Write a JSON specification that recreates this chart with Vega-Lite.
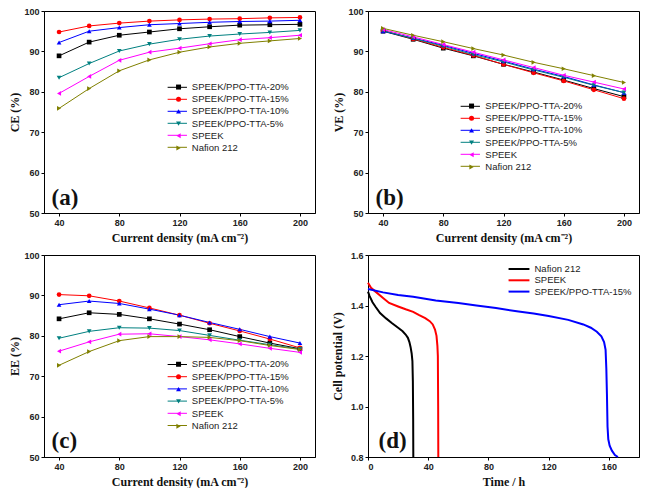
{
  "$schema": "https://vega.github.io/schema/vega-lite/v6.json",
  "background": "white",
  "padding": {"left": 8, "top": 6, "right": 4, "bottom": 0},
  "datasets": {
    "eff": [
      {"membrane": "SPEEK/PPO-TTA-20%", "cd": 40, "CE": 88.9, "VE": 95.0, "EE": 84.2},
      {"membrane": "SPEEK/PPO-TTA-20%", "cd": 60, "CE": 92.3, "VE": 93.0, "EE": 85.7},
      {"membrane": "SPEEK/PPO-TTA-20%", "cd": 80, "CE": 94.0, "VE": 90.8, "EE": 85.3},
      {"membrane": "SPEEK/PPO-TTA-20%", "cd": 100, "CE": 94.8, "VE": 88.9, "EE": 84.2},
      {"membrane": "SPEEK/PPO-TTA-20%", "cd": 120, "CE": 95.6, "VE": 86.8, "EE": 82.9},
      {"membrane": "SPEEK/PPO-TTA-20%", "cd": 140, "CE": 96.1, "VE": 84.9, "EE": 81.5},
      {"membrane": "SPEEK/PPO-TTA-20%", "cd": 160, "CE": 96.5, "VE": 82.9, "EE": 79.8},
      {"membrane": "SPEEK/PPO-TTA-20%", "cd": 180, "CE": 96.6, "VE": 80.8, "EE": 78.2},
      {"membrane": "SPEEK/PPO-TTA-20%", "cd": 200, "CE": 96.7, "VE": 78.8, "EE": 76.8},
      {"membrane": "SPEEK/PPO-TTA-15%", "cd": 40, "CE": 94.8, "VE": 95.2, "EE": 90.2},
      {"membrane": "SPEEK/PPO-TTA-15%", "cd": 60, "CE": 96.3, "VE": 93.1, "EE": 89.9},
      {"membrane": "SPEEK/PPO-TTA-15%", "cd": 80, "CE": 97.0, "VE": 91.0, "EE": 88.6},
      {"membrane": "SPEEK/PPO-TTA-15%", "cd": 100, "CE": 97.5, "VE": 89.0, "EE": 86.9},
      {"membrane": "SPEEK/PPO-TTA-15%", "cd": 120, "CE": 97.8, "VE": 86.8, "EE": 85.1},
      {"membrane": "SPEEK/PPO-TTA-15%", "cd": 140, "CE": 98.0, "VE": 84.7, "EE": 83.1},
      {"membrane": "SPEEK/PPO-TTA-15%", "cd": 160, "CE": 98.1, "VE": 82.7, "EE": 81.2},
      {"membrane": "SPEEK/PPO-TTA-15%", "cd": 180, "CE": 98.3, "VE": 80.5, "EE": 79.2},
      {"membrane": "SPEEK/PPO-TTA-15%", "cd": 200, "CE": 98.4, "VE": 78.3, "EE": 77.0},
      {"membrane": "SPEEK/PPO-TTA-10%", "cd": 40, "CE": 92.2, "VE": 95.0, "EE": 87.7},
      {"membrane": "SPEEK/PPO-TTA-10%", "cd": 60, "CE": 95.0, "VE": 93.3, "EE": 88.6},
      {"membrane": "SPEEK/PPO-TTA-10%", "cd": 80, "CE": 95.9, "VE": 91.5, "EE": 88.0},
      {"membrane": "SPEEK/PPO-TTA-10%", "cd": 100, "CE": 96.6, "VE": 89.5, "EE": 86.6},
      {"membrane": "SPEEK/PPO-TTA-10%", "cd": 120, "CE": 96.9, "VE": 87.6, "EE": 85.1},
      {"membrane": "SPEEK/PPO-TTA-10%", "cd": 140, "CE": 97.2, "VE": 85.6, "EE": 83.3},
      {"membrane": "SPEEK/PPO-TTA-10%", "cd": 160, "CE": 97.4, "VE": 83.8, "EE": 81.6},
      {"membrane": "SPEEK/PPO-TTA-10%", "cd": 180, "CE": 97.5, "VE": 81.7, "EE": 79.8},
      {"membrane": "SPEEK/PPO-TTA-10%", "cd": 200, "CE": 97.7, "VE": 79.8, "EE": 78.2},
      {"membrane": "SPEEK/PPO-TTA-5%", "cd": 40, "CE": 83.5, "VE": 95.1, "EE": 79.4},
      {"membrane": "SPEEK/PPO-TTA-5%", "cd": 60, "CE": 87.0, "VE": 93.2, "EE": 81.1},
      {"membrane": "SPEEK/PPO-TTA-5%", "cd": 80, "CE": 90.1, "VE": 91.3, "EE": 82.0},
      {"membrane": "SPEEK/PPO-TTA-5%", "cd": 100, "CE": 91.8, "VE": 89.2, "EE": 81.9},
      {"membrane": "SPEEK/PPO-TTA-5%", "cd": 120, "CE": 93.0, "VE": 87.4, "EE": 81.3},
      {"membrane": "SPEEK/PPO-TTA-5%", "cd": 140, "CE": 93.8, "VE": 85.4, "EE": 80.1},
      {"membrane": "SPEEK/PPO-TTA-5%", "cd": 160, "CE": 94.3, "VE": 83.6, "EE": 78.9},
      {"membrane": "SPEEK/PPO-TTA-5%", "cd": 180, "CE": 94.7, "VE": 81.6, "EE": 77.8},
      {"membrane": "SPEEK/PPO-TTA-5%", "cd": 200, "CE": 95.2, "VE": 79.8, "EE": 76.7},
      {"membrane": "SPEEK", "cd": 40, "CE": 79.6, "VE": 95.4, "EE": 76.2},
      {"membrane": "SPEEK", "cd": 60, "CE": 83.8, "VE": 93.6, "EE": 78.5},
      {"membrane": "SPEEK", "cd": 80, "CE": 87.8, "VE": 91.7, "EE": 80.4},
      {"membrane": "SPEEK", "cd": 100, "CE": 89.8, "VE": 89.8, "EE": 80.5},
      {"membrane": "SPEEK", "cd": 120, "CE": 90.8, "VE": 87.9, "EE": 79.8},
      {"membrane": "SPEEK", "cd": 140, "CE": 91.9, "VE": 86.0, "EE": 79.0},
      {"membrane": "SPEEK", "cd": 160, "CE": 92.9, "VE": 84.1, "EE": 78.0},
      {"membrane": "SPEEK", "cd": 180, "CE": 93.4, "VE": 82.4, "EE": 76.9},
      {"membrane": "SPEEK", "cd": 200, "CE": 94.0, "VE": 80.7, "EE": 75.9},
      {"membrane": "Nafion 212", "cd": 40, "CE": 75.9, "VE": 95.7, "EE": 72.7},
      {"membrane": "Nafion 212", "cd": 60, "CE": 80.8, "VE": 94.0, "EE": 76.1},
      {"membrane": "Nafion 212", "cd": 80, "CE": 85.2, "VE": 92.4, "EE": 78.8},
      {"membrane": "Nafion 212", "cd": 100, "CE": 87.9, "VE": 90.7, "EE": 79.8},
      {"membrane": "Nafion 212", "cd": 120, "CE": 89.8, "VE": 89.1, "EE": 79.8},
      {"membrane": "Nafion 212", "cd": 140, "CE": 91.1, "VE": 87.3, "EE": 79.6},
      {"membrane": "Nafion 212", "cd": 160, "CE": 92.0, "VE": 85.7, "EE": 78.8},
      {"membrane": "Nafion 212", "cd": 180, "CE": 92.6, "VE": 84.0, "EE": 77.6},
      {"membrane": "Nafion 212", "cd": 200, "CE": 93.2, "VE": 82.3, "EE": 76.6}
    ],
    "selfdischarge": [
      {"membrane": "Nafion 212", "t": 0, "V": 1.455},
      {"membrane": "Nafion 212", "t": 1, "V": 1.438},
      {"membrane": "Nafion 212", "t": 3, "V": 1.413},
      {"membrane": "Nafion 212", "t": 5, "V": 1.395},
      {"membrane": "Nafion 212", "t": 8, "V": 1.37},
      {"membrane": "Nafion 212", "t": 12, "V": 1.349},
      {"membrane": "Nafion 212", "t": 16, "V": 1.33},
      {"membrane": "Nafion 212", "t": 20, "V": 1.312},
      {"membrane": "Nafion 212", "t": 23, "V": 1.298},
      {"membrane": "Nafion 212", "t": 25, "V": 1.285},
      {"membrane": "Nafion 212", "t": 26.5, "V": 1.272},
      {"membrane": "Nafion 212", "t": 27.5, "V": 1.255},
      {"membrane": "Nafion 212", "t": 28.3, "V": 1.235},
      {"membrane": "Nafion 212", "t": 29, "V": 1.21},
      {"membrane": "Nafion 212", "t": 29.5, "V": 1.18},
      {"membrane": "Nafion 212", "t": 29.8, "V": 1.1},
      {"membrane": "Nafion 212", "t": 30, "V": 0.95},
      {"membrane": "Nafion 212", "t": 30.1, "V": 0.8},
      {"membrane": "SPEEK", "t": 0, "V": 1.49},
      {"membrane": "SPEEK", "t": 2, "V": 1.47},
      {"membrane": "SPEEK", "t": 5, "V": 1.455},
      {"membrane": "SPEEK", "t": 10, "V": 1.43},
      {"membrane": "SPEEK", "t": 14, "V": 1.41},
      {"membrane": "SPEEK", "t": 20, "V": 1.396},
      {"membrane": "SPEEK", "t": 25, "V": 1.385},
      {"membrane": "SPEEK", "t": 30, "V": 1.375},
      {"membrane": "SPEEK", "t": 34, "V": 1.362},
      {"membrane": "SPEEK", "t": 38, "V": 1.35},
      {"membrane": "SPEEK", "t": 41, "V": 1.338},
      {"membrane": "SPEEK", "t": 43, "V": 1.325},
      {"membrane": "SPEEK", "t": 44.5, "V": 1.305},
      {"membrane": "SPEEK", "t": 45.5, "V": 1.28},
      {"membrane": "SPEEK", "t": 46.1, "V": 1.24},
      {"membrane": "SPEEK", "t": 46.4, "V": 1.2},
      {"membrane": "SPEEK", "t": 46.6, "V": 1.0},
      {"membrane": "SPEEK", "t": 46.7, "V": 0.8},
      {"membrane": "SPEEK/PPO-TTA-15%", "t": 0, "V": 1.465},
      {"membrane": "SPEEK/PPO-TTA-15%", "t": 10, "V": 1.452},
      {"membrane": "SPEEK/PPO-TTA-15%", "t": 20, "V": 1.442},
      {"membrane": "SPEEK/PPO-TTA-15%", "t": 30, "V": 1.435},
      {"membrane": "SPEEK/PPO-TTA-15%", "t": 45, "V": 1.42},
      {"membrane": "SPEEK/PPO-TTA-15%", "t": 60, "V": 1.41},
      {"membrane": "SPEEK/PPO-TTA-15%", "t": 72, "V": 1.4},
      {"membrane": "SPEEK/PPO-TTA-15%", "t": 85, "V": 1.39},
      {"membrane": "SPEEK/PPO-TTA-15%", "t": 100, "V": 1.376},
      {"membrane": "SPEEK/PPO-TTA-15%", "t": 110, "V": 1.368},
      {"membrane": "SPEEK/PPO-TTA-15%", "t": 120, "V": 1.358},
      {"membrane": "SPEEK/PPO-TTA-15%", "t": 133, "V": 1.343},
      {"membrane": "SPEEK/PPO-TTA-15%", "t": 143, "V": 1.325},
      {"membrane": "SPEEK/PPO-TTA-15%", "t": 148, "V": 1.312},
      {"membrane": "SPEEK/PPO-TTA-15%", "t": 152, "V": 1.296},
      {"membrane": "SPEEK/PPO-TTA-15%", "t": 155, "V": 1.278},
      {"membrane": "SPEEK/PPO-TTA-15%", "t": 156.8, "V": 1.255},
      {"membrane": "SPEEK/PPO-TTA-15%", "t": 157.8, "V": 1.225},
      {"membrane": "SPEEK/PPO-TTA-15%", "t": 158.3, "V": 1.15},
      {"membrane": "SPEEK/PPO-TTA-15%", "t": 158.7, "V": 1.05},
      {"membrane": "SPEEK/PPO-TTA-15%", "t": 159.1, "V": 0.92},
      {"membrane": "SPEEK/PPO-TTA-15%", "t": 159.6, "V": 0.87},
      {"membrane": "SPEEK/PPO-TTA-15%", "t": 160.5, "V": 0.845},
      {"membrane": "SPEEK/PPO-TTA-15%", "t": 162, "V": 0.825},
      {"membrane": "SPEEK/PPO-TTA-15%", "t": 164, "V": 0.808},
      {"membrane": "SPEEK/PPO-TTA-15%", "t": 166, "V": 0.8}
    ]
  },
  "columns": 2,
  "spacing": {"row": 6, "column": 14},
  "resolve": {
    "scale": {"x": "independent", "y": "independent", "color": "independent", "shape": "independent"},
    "legend": {"color": "independent", "shape": "independent"}
  },
  "concat": [
    {
      "width": 271,
      "height": 202,
      "data": {"name": "eff"},
      "resolve": {"scale": {"color": "independent", "shape": "independent"}, "legend": {"color": "independent", "shape": "independent"}},
      "layer": [
        {
          "mark": {"type": "line", "strokeWidth": 1},
          "encoding": {
            "x": {"field": "cd", "type": "quantitative", "title": "Current density (mA cm⁻²)", "scale": {"domain": [30, 210], "nice": false},
                  "axis": {"values": [40, 50, 60, 70, 80, 90, 100, 110, 120, 130, 140, 150, 160, 170, 180, 190, 200], "labelOverlap": false, "labelExpr": "datum.value % 20 === 0 ? datum.label : ''"}},
            "y": {"field": "CE", "type": "quantitative", "title": "CE (%)", "scale": {"domain": [50, 100], "nice": false},
                  "axis": {"values": [50, 55, 60, 65, 70, 75, 80, 85, 90, 95, 100], "labelOverlap": false, "labelExpr": "datum.value % 10 === 0 ? datum.label : ''"}},
            "color": {"field": "membrane", "type": "nominal",
                      "scale": {"domain": ["SPEEK/PPO-TTA-20%", "SPEEK/PPO-TTA-15%", "SPEEK/PPO-TTA-10%", "SPEEK/PPO-TTA-5%", "SPEEK", "Nafion 212", " "], "range": ["#000000", "#ff0000", "#0000ff", "#008080", "#ff00ff", "#808000", "transparent"]},
                      "legend": {"orient": "none", "legendX": 128.3, "legendY": 71.3, "rowPadding": 2.0, "symbolType": "M-2.28,0H2.28", "symbolSize": 72, "symbolStrokeWidth": 1, "labelColor": "transparent", "labelOpacity": 0, "labelExpr": "''"}}
          }
        },
        {
          "mark": {"type": "point", "filled": true, "size": 22, "opacity": 1},
          "encoding": {
            "x": {"field": "cd", "type": "quantitative"},
            "y": {"field": "CE", "type": "quantitative"},
            "color": {"field": "membrane", "type": "nominal",
                      "scale": {"domain": ["SPEEK/PPO-TTA-20%", "SPEEK/PPO-TTA-15%", "SPEEK/PPO-TTA-10%", "SPEEK/PPO-TTA-5%", "SPEEK", "Nafion 212"], "range": ["#000000", "#ff0000", "#0000ff", "#008080", "#ff00ff", "#808000"]},
                      "legend": {"orient": "none", "legendX": 129.8, "legendY": 71.3, "rowPadding": 1.2, "symbolSize": 25, "labelOffset": 8.5}},
            "shape": {"field": "membrane", "type": "nominal",
                      "scale": {"domain": ["SPEEK/PPO-TTA-20%", "SPEEK/PPO-TTA-15%", "SPEEK/PPO-TTA-10%", "SPEEK/PPO-TTA-5%", "SPEEK", "Nafion 212"], "range": ["square", "circle", "triangle-up", "triangle-down", "triangle-left", "triangle-right"]},
                      "legend": {"orient": "none", "legendX": 129.8, "legendY": 71.3, "rowPadding": 1.2, "symbolSize": 25, "labelOffset": 8.5}}
          }
        },
        {
          "data": {"values": [{}]},
          "mark": {"type": "text", "font": "Liberation Serif", "fontSize": 23, "fontWeight": "bold", "align": "left", "baseline": "alphabetic", "color": "#111"},
          "encoding": {"x": {"datum": 35, "type": "quantitative"}, "y": {"datum": 52, "type": "quantitative"}, "text": {"value": "(a)"}}
        }
      ]
    },
    {
      "width": 271,
      "height": 202,
      "data": {"name": "eff"},
      "resolve": {"scale": {"color": "independent", "shape": "independent"}, "legend": {"color": "independent", "shape": "independent"}},
      "layer": [
        {
          "mark": {"type": "line", "strokeWidth": 1},
          "encoding": {
            "x": {"field": "cd", "type": "quantitative", "title": "Current density (mA cm⁻²)", "scale": {"domain": [30, 210], "nice": false},
                  "axis": {"values": [40, 50, 60, 70, 80, 90, 100, 110, 120, 130, 140, 150, 160, 170, 180, 190, 200], "labelOverlap": false, "labelExpr": "datum.value % 20 === 0 ? datum.label : ''"}},
            "y": {"field": "VE", "type": "quantitative", "title": "VE (%)", "scale": {"domain": [50, 100], "nice": false},
                  "axis": {"values": [50, 55, 60, 65, 70, 75, 80, 85, 90, 95, 100], "labelOverlap": false, "labelExpr": "datum.value % 10 === 0 ? datum.label : ''"}},
            "color": {"field": "membrane", "type": "nominal",
                      "scale": {"domain": ["SPEEK/PPO-TTA-20%", "SPEEK/PPO-TTA-15%", "SPEEK/PPO-TTA-10%", "SPEEK/PPO-TTA-5%", "SPEEK", "Nafion 212", " "], "range": ["#000000", "#ff0000", "#0000ff", "#008080", "#ff00ff", "#808000", "transparent"]},
                      "legend": {"orient": "none", "legendX": 97.3, "legendY": 90.3, "rowPadding": 2.0, "symbolType": "M-2.28,0H2.28", "symbolSize": 72, "symbolStrokeWidth": 1, "labelColor": "transparent", "labelOpacity": 0, "labelExpr": "''"}}
          }
        },
        {
          "mark": {"type": "point", "filled": true, "size": 22, "opacity": 1},
          "encoding": {
            "x": {"field": "cd", "type": "quantitative"},
            "y": {"field": "VE", "type": "quantitative"},
            "color": {"field": "membrane", "type": "nominal",
                      "scale": {"domain": ["SPEEK/PPO-TTA-20%", "SPEEK/PPO-TTA-15%", "SPEEK/PPO-TTA-10%", "SPEEK/PPO-TTA-5%", "SPEEK", "Nafion 212"], "range": ["#000000", "#ff0000", "#0000ff", "#008080", "#ff00ff", "#808000"]},
                      "legend": {"orient": "none", "legendX": 98.8, "legendY": 90.3, "rowPadding": 1.2, "symbolSize": 25, "labelOffset": 9}},
            "shape": {"field": "membrane", "type": "nominal",
                      "scale": {"domain": ["SPEEK/PPO-TTA-20%", "SPEEK/PPO-TTA-15%", "SPEEK/PPO-TTA-10%", "SPEEK/PPO-TTA-5%", "SPEEK", "Nafion 212"], "range": ["square", "circle", "triangle-up", "triangle-down", "triangle-left", "triangle-right"]},
                      "legend": {"orient": "none", "legendX": 98.8, "legendY": 90.3, "rowPadding": 1.2, "symbolSize": 25, "labelOffset": 9}}
          }
        },
        {
          "data": {"values": [{}]},
          "mark": {"type": "text", "font": "Liberation Serif", "fontSize": 23, "fontWeight": "bold", "align": "left", "baseline": "alphabetic", "color": "#111"},
          "encoding": {"x": {"datum": 35, "type": "quantitative"}, "y": {"datum": 52, "type": "quantitative"}, "text": {"value": "(b)"}}
        }
      ]
    },
    {
      "width": 271,
      "height": 202,
      "data": {"name": "eff"},
      "resolve": {"scale": {"color": "independent", "shape": "independent"}, "legend": {"color": "independent", "shape": "independent"}},
      "layer": [
        {
          "mark": {"type": "line", "strokeWidth": 1},
          "encoding": {
            "x": {"field": "cd", "type": "quantitative", "title": "Current density (mA cm⁻²)", "scale": {"domain": [30, 210], "nice": false},
                  "axis": {"values": [40, 50, 60, 70, 80, 90, 100, 110, 120, 130, 140, 150, 160, 170, 180, 190, 200], "labelOverlap": false, "labelExpr": "datum.value % 20 === 0 ? datum.label : ''"}},
            "y": {"field": "EE", "type": "quantitative", "title": "EE (%)", "scale": {"domain": [50, 100], "nice": false},
                  "axis": {"values": [50, 55, 60, 65, 70, 75, 80, 85, 90, 95, 100], "labelOverlap": false, "labelExpr": "datum.value % 10 === 0 ? datum.label : ''"}},
            "color": {"field": "membrane", "type": "nominal",
                      "scale": {"domain": ["SPEEK/PPO-TTA-20%", "SPEEK/PPO-TTA-15%", "SPEEK/PPO-TTA-10%", "SPEEK/PPO-TTA-5%", "SPEEK", "Nafion 212", " "], "range": ["#000000", "#ff0000", "#0000ff", "#008080", "#ff00ff", "#808000", "transparent"]},
                      "legend": {"orient": "none", "legendX": 128.3, "legendY": 104.5, "rowPadding": 2.2, "symbolType": "M-2.28,0H2.28", "symbolSize": 72, "symbolStrokeWidth": 1, "labelColor": "transparent", "labelOpacity": 0, "labelExpr": "''"}}
          }
        },
        {
          "mark": {"type": "point", "filled": true, "size": 22, "opacity": 1},
          "encoding": {
            "x": {"field": "cd", "type": "quantitative"},
            "y": {"field": "EE", "type": "quantitative"},
            "color": {"field": "membrane", "type": "nominal",
                      "scale": {"domain": ["SPEEK/PPO-TTA-20%", "SPEEK/PPO-TTA-15%", "SPEEK/PPO-TTA-10%", "SPEEK/PPO-TTA-5%", "SPEEK", "Nafion 212"], "range": ["#000000", "#ff0000", "#0000ff", "#008080", "#ff00ff", "#808000"]},
                      "legend": {"orient": "none", "legendX": 129.8, "legendY": 104.5, "rowPadding": 1.4, "symbolSize": 25, "labelOffset": 8.5}},
            "shape": {"field": "membrane", "type": "nominal",
                      "scale": {"domain": ["SPEEK/PPO-TTA-20%", "SPEEK/PPO-TTA-15%", "SPEEK/PPO-TTA-10%", "SPEEK/PPO-TTA-5%", "SPEEK", "Nafion 212"], "range": ["square", "circle", "triangle-up", "triangle-down", "triangle-left", "triangle-right"]},
                      "legend": {"orient": "none", "legendX": 129.8, "legendY": 104.5, "rowPadding": 1.4, "symbolSize": 25, "labelOffset": 8.5}}
          }
        },
        {
          "data": {"values": [{}]},
          "mark": {"type": "text", "font": "Liberation Serif", "fontSize": 23, "fontWeight": "bold", "align": "left", "baseline": "alphabetic", "color": "#111"},
          "encoding": {"x": {"datum": 35, "type": "quantitative"}, "y": {"datum": 52.2, "type": "quantitative"}, "text": {"value": "(c)"}}
        }
      ]
    },
    {
      "width": 271,
      "height": 202,
      "data": {"name": "selfdischarge"},
      "layer": [
        {
          "mark": {"type": "line", "strokeWidth": 2},
          "encoding": {
            "x": {"field": "t", "type": "quantitative", "title": "Time / h", "scale": {"domain": [0, 180], "nice": false},
                  "axis": {"values": [0, 10, 20, 30, 40, 50, 60, 70, 80, 90, 100, 110, 120, 130, 140, 150, 160, 170, 180], "labelOverlap": false, "labelExpr": "datum.value % 20 === 0 ? datum.label : ''"}},
            "y": {"field": "V", "type": "quantitative", "title": "Cell potential (V)", "scale": {"domain": [0.8, 1.6], "nice": false},
                  "axis": {"values": [0.8, 0.85, 0.9, 0.95, 1.0, 1.05, 1.1, 1.15, 1.2, 1.25, 1.3, 1.35, 1.4, 1.45, 1.5, 1.55, 1.6], "titlePadding": 6, "labelOverlap": false,
                           "labelExpr": "round(datum.value * 100) % 10 === 0 ? format(datum.value, '.1f') : ''"}},
            "color": {"field": "membrane", "type": "nominal",
                      "scale": {"domain": ["Nafion 212", "SPEEK", "SPEEK/PPO-TTA-15%"], "range": ["#000000", "#ff0000", "#0000ff"]},
                      "legend": {"orient": "none", "legendX": 145, "legendY": 8, "rowPadding": 0.3, "labelOffset": 9.5,
                                 "symbolType": "M-2.2,0H2.2", "symbolStrokeWidth": 2}}
          }
        },
        {
          "data": {"values": [{}]},
          "mark": {"type": "text", "font": "Liberation Serif", "fontSize": 23, "fontWeight": "bold", "align": "left", "baseline": "alphabetic", "color": "#111"},
          "encoding": {"x": {"datum": 7, "type": "quantitative"}, "y": {"datum": 0.836, "type": "quantitative"}, "text": {"value": "(d)"}}
        }
      ]
    }
  ],
  "config": {
    "view": {"stroke": "#000000", "strokeWidth": 1},
    "axis": {
      "grid": false,
      "domainColor": "#000000",
      "tickColor": "#000000",
      "tickSize": 3,
      "labelPadding": 2,
      "labelOverlap": false,
      "labelFont": "Liberation Sans",
      "labelFontSize": 9,
      "labelFontWeight": "bold",
      "labelColor": "#222222",
      "titleFont": "Liberation Serif",
      "titleFontSize": 12,
      "titleFontWeight": "bold",
      "titleColor": "#111111"
    },
    "axisX": {"titlePadding": 5},
    "axisY": {"titlePadding": 2},
    "legend": {
      "title": null,
      "padding": 0,
      "symbolSize": 90,
      "labelOffset": 10,
      "labelFont": "Liberation Sans",
      "labelFontSize": 9.5,
      "labelColor": "#222222"
    }
  }
}
